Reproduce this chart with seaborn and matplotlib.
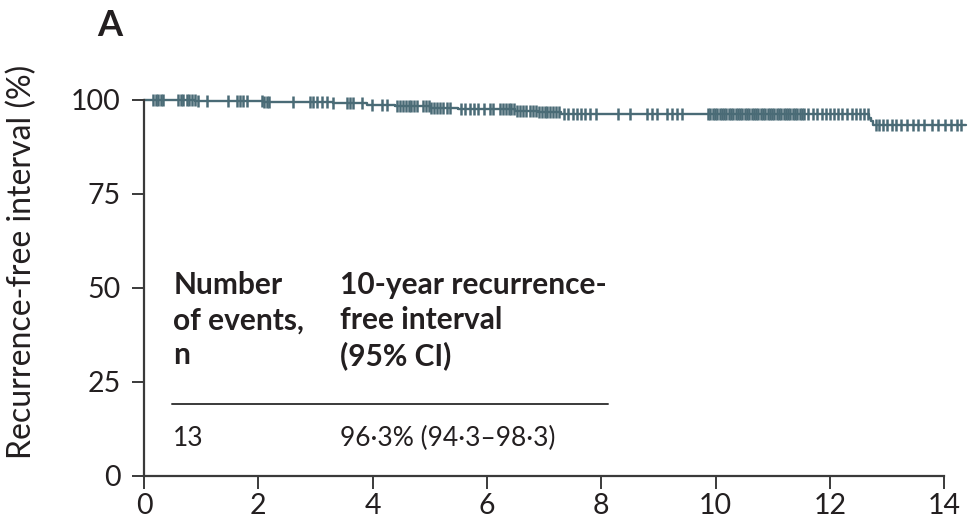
import numpy as np
import pandas as pd
import matplotlib
matplotlib.use("Agg")
import matplotlib.pyplot as plt
import seaborn as sns

# ---- data ----
event_times = [0.0, 0.9, 2.1, 3.3, 3.9, 4.4, 5.0, 5.5, 6.5, 6.9, 7.3, 12.68, 12.72, 12.76, 14.38]
survival = [100.0, 99.7, 99.4, 99.1, 98.8, 98.4, 98.0, 97.6, 97.2, 96.8, 96.3, 95.3, 94.4, 93.4, 93.4]

censor_times = [
    0.16, 0.21, 0.25, 0.30, 0.33, 0.60, 0.65, 0.68, 0.75, 0.79, 0.84, 0.89, 0.95, 1.10,
    1.47, 1.63, 1.68, 1.73, 1.80, 2.07, 2.10, 2.15, 2.19, 2.61, 2.90, 2.96, 3.03, 3.11,
    3.20, 3.31, 3.55, 3.61, 3.66, 3.81, 3.99, 4.17, 4.25, 4.43, 4.48, 4.53, 4.58, 4.63,
    4.68, 4.73, 4.78, 4.88, 4.93, 4.98, 5.03, 5.08, 5.13, 5.18, 5.24, 5.30, 5.35,
    5.55, 5.62, 5.70, 5.78, 5.85, 5.95, 6.05, 6.11, 6.23, 6.28, 6.33, 6.38, 6.43, 6.48,
    6.53, 6.58, 6.63, 6.68, 6.76, 6.81, 6.86, 6.91, 6.96, 7.01, 7.06, 7.11, 7.16, 7.21,
    7.26, 7.35, 7.42, 7.50, 7.58, 7.65, 7.72, 7.80, 7.90, 8.30, 8.51, 8.80, 8.89, 8.98,
    9.15, 9.24, 9.33, 9.42,
    9.87, 9.91, 9.95, 9.99, 10.03, 10.07, 10.11, 10.15, 10.19, 10.23, 10.27, 10.31,
    10.35, 10.39, 10.43, 10.47, 10.51, 10.55, 10.59, 10.63, 10.67, 10.71, 10.75, 10.79,
    10.83, 10.87, 10.91, 10.95, 10.99, 11.03, 11.07, 11.11, 11.15, 11.19, 11.23, 11.27,
    11.31, 11.35, 11.39, 11.43, 11.47, 11.51, 11.55,
    11.62, 11.70, 11.78, 11.86, 11.93, 12.00, 12.08, 12.15, 12.22, 12.30, 12.38, 12.45,
    12.52, 12.60, 12.67,
    12.80, 12.86, 12.93, 13.00, 13.08, 13.15, 13.25, 13.35, 13.45, 13.55, 13.65, 13.78,
    13.90, 14.02, 14.12, 14.22, 14.30,
]

x_ticks = [0, 2, 4, 6, 8, 10, 12, 14]
y_ticks = [0, 25, 50, 75, 100]

table_header_1 = "Number\nof events,\nn"
table_header_2 = "10-year recurrence-\nfree interval\n(95% CI)"
table_value_1 = "13"
table_value_2 = "96·3% (94·3–98·3)"

# ---- style ----
sns.set_theme(style="white")
plt.rcParams["font.family"] = ["Lato", "DejaVu Sans"]

line_color = "#4a6b76"
text_color = "#231f20"
axis_color = "#3a3a3a"

fig = plt.figure(figsize=(9.69, 5.28), dpi=100)
ax = fig.add_axes([144 / 969, 1 - 476 / 528, (967 - 144) / 969, (476 - 100) / 528])

curve = pd.DataFrame({"time": event_times, "surv": survival})
sns.lineplot(data=curve, x="time", y="surv", drawstyle="steps-post", estimator=None,
             color=line_color, linewidth=1.7, ax=ax, clip_on=False)

idx = np.searchsorted(np.array(event_times), np.array(censor_times), side="right") - 1
cens = pd.DataFrame({"time": censor_times, "surv": np.array(survival)[idx]})
sns.scatterplot(data=cens, x="time", y="surv", marker="|", s=80, linewidth=1.8,
                color=line_color, ax=ax, clip_on=False, zorder=3)

ax.set_xlim(0, 14.4)
ax.set_ylim(0, 100)
ax.set_xticks(x_ticks)
ax.set_yticks(y_ticks)
ax.set_xticklabels([str(v) for v in x_ticks])
ax.set_yticklabels([str(v) for v in y_ticks])
ax.spines["top"].set_visible(False)
ax.spines["right"].set_visible(False)
ax.spines["bottom"].set_bounds(0, 14)
for s in ("left", "bottom"):
    ax.spines[s].set_color(axis_color)
    ax.spines[s].set_linewidth(1.6)
ax.tick_params(axis="both", direction="out", length=9, width=1.4, color=axis_color,
               labelsize=20.5, labelcolor=text_color, left=True, bottom=True)
ax.tick_params(axis="y", pad=8)
ax.tick_params(axis="x", pad=3)
ax.set_xlabel("")
ax.set_ylabel("Recurrence-free interval (%)", fontsize=23, color=text_color)
ax.yaxis.set_label_coords(-0.130, 0.57)

# panel letter
fig.text(110 / 969, 1 - 25 / 528, "A", fontsize=26, fontweight="bold",
         color=text_color, ha="center", va="center")

# inset table
ax.text(0.51, 54.4, table_header_1, fontsize=21.5, fontweight="bold", color=text_color,
        ha="left", va="top", linespacing=1.3)
ax.text(3.43, 54.4, table_header_2, fontsize=21.5, fontweight="bold", color=text_color,
        ha="left", va="top", linespacing=1.3)
ax.plot([0.49, 8.12], [19.1, 19.1], color=axis_color, linewidth=1.4)
ax.text(0.51, 10.1, table_value_1, fontsize=19, color=text_color, ha="left", va="center")
ax.text(3.43, 10.1, table_value_2, fontsize=19, color=text_color, ha="left", va="center")

fig.savefig("out.png", dpi=100)
